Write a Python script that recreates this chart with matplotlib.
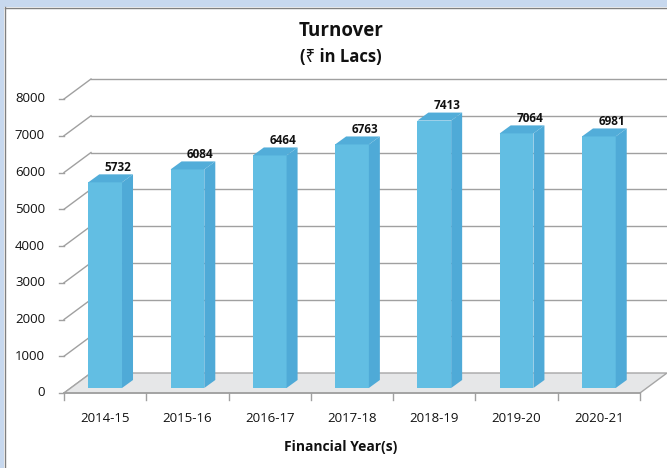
import matplotlib
matplotlib.use("Agg")
import matplotlib.pyplot as plt
from matplotlib.patches import Polygon, Rectangle
import numpy as np

categories = ["2014-15", "2015-16", "2016-17", "2017-18", "2018-19", "2019-20", "2020-21"]
turnover = [5732, 6084, 6464, 6763, 7413, 7064, 6981]
yticks = [0, 1000, 2000, 3000, 4000, 5000, 6000, 7000, 8000]

FW, FH = 667, 468
fig = plt.figure(figsize=(FW / 100, FH / 100), dpi=100)
fig.patch.set_facecolor("white")

# frame decoration
fig.patches.append(Rectangle((0, (FH - 7) / FH), 1, 7 / FH, transform=fig.transFigure,
                             facecolor="#C7D8EE", edgecolor="none", zorder=0))
fig.patches.append(Rectangle((0, 0), 4 / FW, 1, transform=fig.transFigure,
                             facecolor="#C7D8EE", edgecolor="none", zorder=0))
fig.add_artist(plt.Line2D([4.5 / FW, 4.5 / FW], [0, (FH - 7) / FH], transform=fig.transFigure,
                          color="#7F7F7F", lw=1))
fig.add_artist(plt.Line2D([4.5 / FW, 1], [(FH - 7.5) / FH] * 2, transform=fig.transFigure,
                          color="#7F7F7F", lw=1))

# axes geometry (front plane)
L, R, B, T = 64, 640, 393, 99
ax = fig.add_axes([L / FW, (FH - B) / FH, (R - L) / FW, (B - T) / FH])
ax.set_xlim(-0.5, len(categories) - 0.5)
ax.set_ylim(0, 8000)
ax.axis("off")

pxx = (len(categories)) / (R - L)      # data units per pixel (x)
pxy = 8000 / (B - T)                   # data units per pixel (y)

def off(dx, dy):
    return dx * pxx, dy * pxy

DX, DY = off(27, 20)   # depth of the chart
x0, x1 = -0.5, len(categories) - 0.5
grid_c = "#A0A0A0"
fam = ["Open Sans", "DejaVu Sans"]

# floor
floor = Polygon([(x0, 0), (x1, 0), (x1 + DX, DY), (x0 + DX, DY)], closed=True,
                facecolor="#E6E7E8", edgecolor="#A6A6A6", lw=1, clip_on=False, zorder=1)
ax.add_patch(floor)

# back wall gridlines and left diagonals
for v in yticks[1:]:
    ax.plot([x0 + DX, x1 + DX + 1], [v + DY, v + DY], color=grid_c, lw=1, clip_on=False, zorder=0.5)
for v in yticks:
    ax.plot([x0, x0 + DX], [v, v + DY], color=grid_c, lw=1, clip_on=False, zorder=0.6)
    tx, _ = off(5, 0)
    ax.plot([x0 - tx, x0], [v, v], color=grid_c, lw=1, clip_on=False, zorder=0.6)
    ax.text(x0 - off(19, 0)[0], v, f"{v}", ha="right", va="center", fontsize=9.5,
            family=fam, color="#111111")

# front x axis and ticks
ax.plot([x0, x1], [0, 0], color=grid_c, lw=1.2, clip_on=False, zorder=2)
for b in np.arange(x0, x1 + 0.01, 1):
    ax.plot([b, b], [0, -off(0, 7)[1]], color=grid_c, lw=1, clip_on=False, zorder=2)
for i, c in enumerate(categories):
    ax.text(i, -off(0, 25)[1], c, ha="center", va="center", fontsize=9.5,
            family=fam, color="#111111")

# bars
bw = 0.41
bdx, bdy = off(11, 8)
_, lift = off(0, 5)
front_c = "#62BEE3"
side_c = "#4FAAD7"
top_c = "#52ADD9"
for i, v in enumerate(turnover):
    l, r = i - bw / 2, i + bw / 2
    b0, t0 = lift, v
    ax.add_patch(Polygon([(l, b0), (r, b0), (r, t0), (l, t0)], closed=True,
                         facecolor=front_c, edgecolor="none", clip_on=False, zorder=3))
    ax.add_patch(Polygon([(r, b0), (r + bdx, b0 + bdy), (r + bdx, t0 + bdy), (r, t0)], closed=True,
                         facecolor=side_c, edgecolor="none", clip_on=False, zorder=3))
    ax.add_patch(Polygon([(l, t0), (r, t0), (r + bdx, t0 + bdy), (l + bdx, t0 + bdy)], closed=True,
                         facecolor=top_c, edgecolor="none", clip_on=False, zorder=3))
    ax.text(i + off(13, 0)[0], t0 + bdy + off(0, 7)[1], f"{v}", ha="center", va="center",
            fontsize=8.5, fontweight="bold", family=fam, color="#111111")

# titles
fig.text(341 / FW, 1 - 31 / FH, "Turnover", ha="center", va="center", fontsize=13.5,
         fontweight="bold", family=fam, color="#111111")
fig.text(341 / FW, 1 - 57 / FH, "(₹ in Lacs)", ha="center", va="center", fontsize=12,
         fontweight="bold", family=["Open Sans", "Noto Sans", "DejaVu Sans"], color="#111111")
fig.text(341 / FW, 1 - 447 / FH, "Financial Year(s)", ha="center", va="center", fontsize=10,
         fontweight="bold", family=fam, color="#111111")

fig.savefig("out.png", dpi=100)
